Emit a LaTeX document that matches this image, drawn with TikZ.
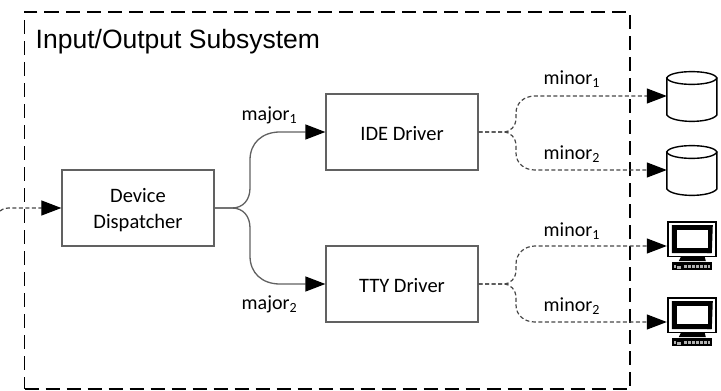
\documentclass[tikz,border=0pt]{standalone}
\usepackage{fontspec}
\setmainfont{Carlito}
\newfontfamily\titlefont{Liberation Sans}
\usetikzlibrary{arrows.meta}
\definecolor{lineg}{gray}{0.38}
\definecolor{dashg}{gray}{0.28}
\tikzset{
  boxnode/.style={draw=lineg,line width=1.3pt,fill=white,minimum width=152pt,minimum height=76pt,inner sep=0pt,align=center,font=\fontsize{20.5}{26.5}\selectfont},
  lab/.style={inner sep=0pt,font=\fontsize{20}{24}\selectfont},
  devnode/.style={minimum width=50pt,minimum height=50pt,inner sep=0pt},
  solidlink/.style={draw=lineg,line width=1.3pt},
  dashlink/.style={draw=dashg,line width=1.2pt,dash pattern=on 4pt off 2.5pt},
  tip/.style={-{Triangle[length=20pt,width=15pt,color=black]},shorten >=0pt},
  frame/.style={draw=black,line width=1.5pt,dash pattern=on 14pt off 7pt},
}
\newcommand{\mydisk}[1]{%
  \begin{scope}[shift={(#1)}]
  \draw[black,line width=1.4pt,fill=white] (0,-18) -- (0,19) .. controls (6,27.5) and (44,27.5) .. (50,19) -- (50,-18) -- cycle;
  \draw[black,line width=1.4pt,fill=white] (0,-18) .. controls (3,-26.5) and (47,-26.5) .. (50,-18) .. controls (47,-9.5) and (3,-9.5) .. (0,-18) -- cycle;
  \end{scope}}
\newcommand{\mymon}[1]{%
  \begin{scope}[shift={(#1)}]
    \draw[black,line width=1.7pt,fill=white] (1.5,-24) rectangle (49,10.5);
    \fill[black] (5,-21) -- (46,-21) -- (45,7) -- (5,7) -- cycle;
    \fill[white] (10,-16) -- (41,-16) -- (41,2) -- (10,2) -- cycle;
    \fill[black] (14,11) -- (38,11) -- (39,15) -- (12,15) -- cycle;
    \fill[black] (5,16) rectangle (45,24);
    \fill[gray!45] (40,6.6) rectangle (44,8) ;
    \fill[white!70!black] (7,19) rectangle (9,22);
    \fill[white!70!black] (10,20) rectangle (14,22.5);
    \fill[white!70!black] (17,18.5) rectangle (43,21.5);
    \foreach \k in {20,24,...,40} {\fill[black] (\k,18) rectangle (\k+1,22);}
  \end{scope}}
\begin{document}
\begin{tikzpicture}[x=1pt,y=-1pt]
\useasboundingbox (0,0) rectangle (721,391);
\node[minimum width=605.5pt,minimum height=377pt,frame,inner sep=0pt] (sys) at (327.25,200.5) {};
\node[inner sep=0pt,anchor=base west,font=\fontsize{26.5}{30}\selectfont\titlefont] (title) at (35.5,48.5) {Input/Output Subsystem};
\node[boxnode] (disp) at (138,208) {\rule{0pt}{18pt}Device\\Dispatcher};
\node[boxnode] (ide) at (402,132) {\rule{0pt}{17pt}IDE Driver};
\node[boxnode] (tty) at (402,284) {\rule{0pt}{17pt}TTY Driver};
\node[devnode] (d1) at (692,96) {};
\node[devnode] (d2) at (692,170) {};
\node[devnode] (m1) at (692,246) {};
\node[devnode] (m2) at (692,322) {};
\coordinate (in) at (0,211);
\mydisk{d1.west}
\mydisk{d2.west}
\mymon{m1.west}
\mymon{m2.west}
\draw[dashlink,tip] (in) .. controls (4,208) and (6,208) .. (12,208) -- (disp.west);
\draw[solidlink,tip] (disp.east) -- (232,208) .. controls (243,208) and (250,200) .. (250,188) -- (250,160) .. controls (250,143) and (262,132) .. (280,132) -- (ide.west);
\draw[solidlink,tip] (disp.east) -- (232,208) .. controls (243,208) and (250,216) .. (250,228) -- (250,256) .. controls (250,273) and (262,284) .. (280,284) -- (tty.west);
\draw[dashlink,tip] (ide.east) -- (503,132) .. controls (511,132) and (516,126) .. (516,118) -- (516,113) .. controls (516,103) and (524,96) .. (535,96) -- (d1.west);
\draw[dashlink,tip] (ide.east) -- (503,132) .. controls (511,132) and (516,138) .. (516,146) -- (516,153) .. controls (516,163) and (524,170) .. (535,170) -- (d2.west);
\draw[dashlink,tip] (tty.east) -- (503,284) .. controls (511,284) and (516,278) .. (516,270) -- (516,264) .. controls (516,254) and (524,246) .. (535,246) -- (m1.west);
\draw[dashlink,tip] (tty.east) -- (503,284) .. controls (511,284) and (516,290) .. (516,298) -- (516,305) .. controls (516,315) and (524,322) .. (535,322) -- (m2.west);
\node[lab,anchor=base west] (a1) at (241.5,120.5) {major\textsubscript{1}};
\node[lab,anchor=base west] (a2) at (241.5,309.5) {major\textsubscript{2}};
\node[lab,anchor=base west] (b1) at (543.5,84.5) {minor\textsubscript{1}};
\node[lab,anchor=base west] (b2) at (543.5,159) {minor\textsubscript{2}};
\node[lab,anchor=base west] (b3) at (543.5,236.5) {minor\textsubscript{1}};
\node[lab,anchor=base west] (b4) at (543.5,311) {minor\textsubscript{2}};
\end{tikzpicture}
\end{document}
